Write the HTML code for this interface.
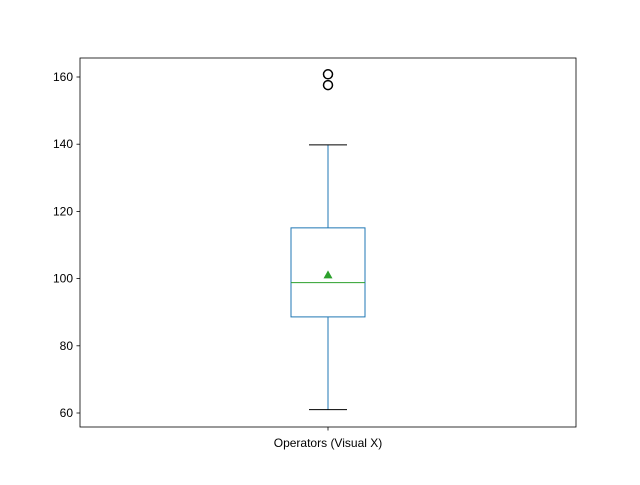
<!DOCTYPE html>
<html><head><meta charset="utf-8"><style>
html,body{margin:0;padding:0;background:#fff;}
svg text{font-family:"Liberation Sans","DejaVu Sans",sans-serif;font-size:12px;fill:#000;}
</style></head><body>
<svg id="chart" width="640" height="480" xmlns="http://www.w3.org/2000/svg"></svg>
<script>
const categories = ["Operators (Visual X)"];
const whiskerLow = [61.0];
const q1 = [88.6];
const median = [98.8];
const q3 = [115.1];
const whiskerHigh = [139.8];
const meanVals = [101.1];
const outliers = [160.8, 157.6];
const yTicks = [60, 80, 100, 120, 140, 160];

const svg = document.getElementById('chart');
const NS = 'http://www.w3.org/2000/svg';
const L = 80, R = 576, T = 58, B = 427;
function y(v){ return 413 - (v - 60) * 3.36; }
function x(i){ return (L + R) / 2 + i * 0; }
function mk(tag, attrs, name){
  const e = document.createElementNS(NS, tag);
  for (const k in attrs) e.setAttribute(k, attrs[k]);
  
  
  svg.appendChild(e);
  return e;
}
yTicks.forEach(t => {
  mk('line', {x1: L - 3.5, x2: L, y1: y(t), y2: y(t), stroke: '#000', 'stroke-width': 0.8}, 'y-tick');
  const tx = mk('text', {x: L - 7, y: y(t) + 4, 'text-anchor': 'end'}, 'y-tick-label');
  tx.textContent = t;
});
categories.forEach((c, i) => {
  const cx = x(i), hw = 37, cw = 19;
  mk('line', {x1: cx, x2: cx, y1: y(q1[i]), y2: y(whiskerLow[i]), stroke: '#1f77b4', 'stroke-width': 1}, 'lower-whisker');
  mk('line', {x1: cx, x2: cx, y1: y(q3[i]), y2: y(whiskerHigh[i]), stroke: '#1f77b4', 'stroke-width': 1}, 'upper-whisker');
  mk('line', {x1: cx - cw, x2: cx + cw, y1: y(whiskerLow[i]), y2: y(whiskerLow[i]), stroke: '#000', 'stroke-width': 1}, 'lower-cap');
  mk('line', {x1: cx - cw, x2: cx + cw, y1: y(whiskerHigh[i]), y2: y(whiskerHigh[i]), stroke: '#000', 'stroke-width': 1}, 'upper-cap');
  mk('rect', {x: cx - hw, y: y(q3[i]), width: 2 * hw, height: y(q1[i]) - y(q3[i]), fill: 'none', stroke: '#1f77b4', 'stroke-width': 1}, 'box');
  mk('line', {x1: cx - hw, x2: cx + hw, y1: y(median[i]), y2: y(median[i]), stroke: '#2ca02c', 'stroke-width': 1}, 'median-line');
  const my = y(meanVals[i]);
  mk('polygon', {points: `${cx},${my - 4.5} ${cx - 4.5},${my + 3.5} ${cx + 4.5},${my + 3.5}`, fill: '#2ca02c'}, 'mean-marker');
  outliers.forEach(o => {
    mk('circle', {cx: cx, cy: y(o), r: 4.5, fill: 'none', stroke: '#000', 'stroke-width': 1.5}, 'outlier');
  });
  mk('line', {x1: cx, x2: cx, y1: B, y2: B + 3.5, stroke: '#000', 'stroke-width': 0.8}, 'x-tick');
  const lab = mk('text', {x: cx, y: B + 20, 'text-anchor': 'middle'}, 'x-tick-label');
  lab.textContent = c;
});
mk('rect', {x: L, y: T, width: R - L, height: B - T, fill: 'none', stroke: '#000', 'stroke-width': 0.8}, 'plot-frame');
</script>
</body></html>
